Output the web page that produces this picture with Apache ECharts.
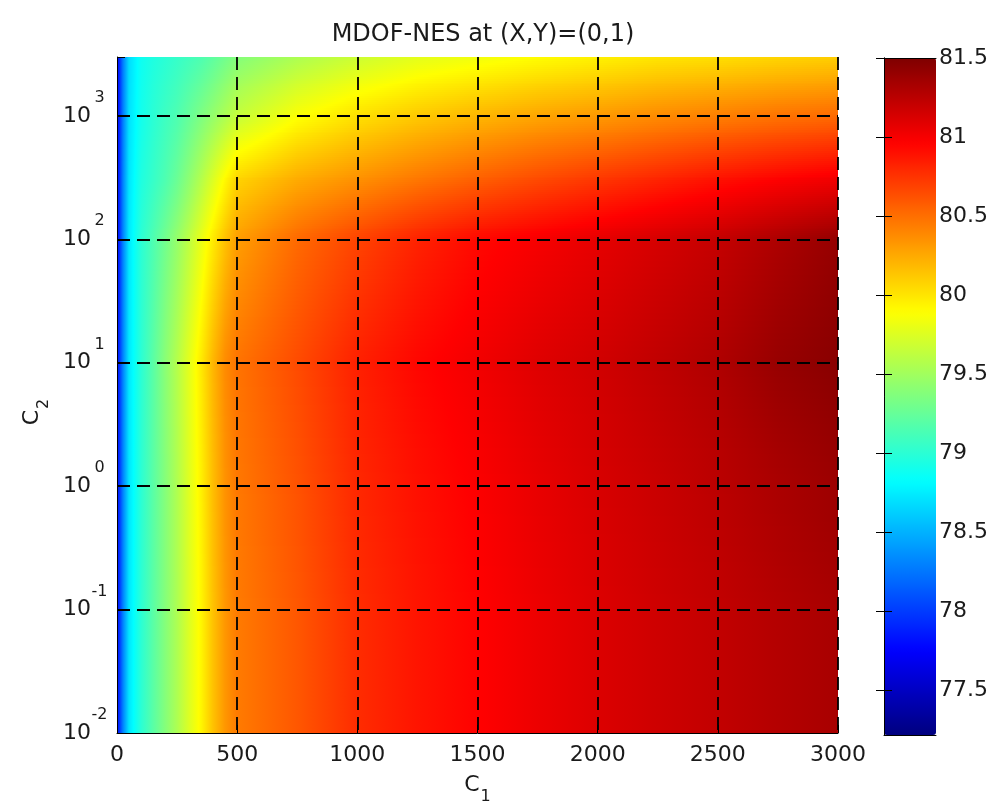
<!DOCTYPE html>
<html><head><meta charset="utf-8">
<script src="https://cdn.jsdelivr.net/npm/echarts@6/dist/echarts.min.js"></script>
<style>html,body{margin:0;padding:0;background:#fff}#c{width:992px;height:807px}</style>
</head><body><div id="c"></div>
<script>
// ---------------- data ----------------
const chartTitle = 'MDOF-NES at (X,Y)=(0,1)';
const c1Values = [0, 25, 50, 100, 150, 200, 250, 300, 350, 400, 450, 500, 750, 1000, 1250, 1500, 1750, 2000, 2250, 2500, 2750, 3000];
const c2Values = [0.01, 0.1, 1, 10, 100, 300, 1000, 3000];
const nesAtC2_0p01 = [77.75, 78.30, 78.72, 79.00, 79.20, 79.38, 79.55, 79.75, 79.93, 80.15, 80.33, 80.45, 80.60, 80.78, 80.88, 80.96, 81.04, 81.11, 81.17, 81.22, 81.28, 81.33];
const nesAtC2_0p1  = [77.75, 78.30, 78.72, 79.00, 79.20, 79.38, 79.55, 79.75, 79.93, 80.15, 80.33, 80.45, 80.60, 80.78, 80.88, 80.96, 81.04, 81.11, 81.17, 81.22, 81.28, 81.33];
const nesAtC2_1    = [77.75, 78.30, 78.72, 79.00, 79.20, 79.38, 79.56, 79.76, 79.95, 80.17, 80.35, 80.46, 80.62, 80.80, 80.90, 80.98, 81.06, 81.13, 81.19, 81.25, 81.32, 81.38];
const nesAtC2_10   = [77.75, 78.30, 78.73, 79.00, 79.20, 79.40, 79.58, 79.78, 79.98, 80.20, 80.38, 80.48, 80.65, 80.83, 80.94, 81.02, 81.10, 81.16, 81.23, 81.30, 81.40, 81.46];
const nesAtC2_100  = [77.72, 78.30, 78.73, 79.00, 79.15, 79.30, 79.45, 79.62, 79.80, 79.98, 80.15, 80.30, 80.52, 80.68, 80.82, 80.93, 81.00, 81.07, 81.14, 81.21, 81.31, 81.41];
const nesAtC2_300  = [77.72, 78.30, 78.72, 78.95, 79.05, 79.15, 79.27, 79.42, 79.58, 79.75, 79.92, 80.08, 80.25, 80.36, 80.47, 80.57, 80.66, 80.74, 80.82, 80.90, 80.97, 81.03];
const nesAtC2_1000 = [77.70, 78.28, 78.70, 78.90, 79.00, 79.08, 79.15, 79.25, 79.35, 79.45, 79.55, 79.65, 79.88, 80.02, 80.12, 80.20, 80.27, 80.32, 80.38, 80.43, 80.48, 80.52];
const nesAtC2_3000 = [77.70, 78.28, 78.68, 78.88, 78.95, 79.00, 79.05, 79.10, 79.15, 79.22, 79.30, 79.38, 79.55, 79.68, 79.78, 79.84, 79.90, 79.95, 80.00, 80.03, 80.07, 80.10];
const c1Ticks = [0, 500, 1000, 1500, 2000, 2500, 3000];
const c2TickExponents = [-2, -1, 0, 1, 2, 3];
const colorbarTicks = [77.5, 78, 78.5, 79, 79.5, 80, 80.5, 81, 81.5];
const colorbarMin = 77.22, colorbarMax = 81.5;
// -------------------------------------

const rows = [nesAtC2_0p01, nesAtC2_0p1, nesAtC2_1, nesAtC2_10, nesAtC2_100, nesAtC2_300, nesAtC2_1000, nesAtC2_3000];
const cells = [];
for (let j = 0; j < c2Values.length - 1; j++) {
  for (let i = 0; i < c1Values.length - 1; i++) {
    cells.push([c1Values[i], c2Values[j], c1Values[i + 1], c2Values[j + 1],
      rows[j][i], rows[j][i + 1], rows[j + 1][i], rows[j + 1][i + 1]]);
  }
}

function clamp01(a) { return Math.min(1, Math.max(0, a)); }
function jet(t) {
  t = clamp01(t);
  const f = a => Math.round(255 * clamp01(a));
  return 'rgb(' + f(Math.min(4 * t - 1.5, -4 * t + 4.5)) + ',' +
    f(Math.min(4 * t - 0.5, -4 * t + 3.5)) + ',' +
    f(Math.min(4 * t + 0.5, -4 * t + 2.5)) + ')';
}
const BREAKS = [0.125, 0.375, 0.625, 0.875];
function toT(v) { return (v - colorbarMin) / (colorbarMax - colorbarMin); }
function hGradient(va, vb) {
  const ta = toT(va), tb = toT(vb);
  const stops = [{ offset: 0, color: jet(ta) }, { offset: 1, color: jet(tb) }];
  if (Math.abs(tb - ta) > 1e-9) {
    BREAKS.forEach(bp => {
      if ((bp - ta) * (bp - tb) < 0) stops.push({ offset: (bp - ta) / (tb - ta), color: jet(bp) });
    });
  }
  stops.sort((a, b) => a.offset - b.offset);
  return { type: 'linear', x: 0, y: 0, x2: 1, y2: 0, colorStops: stops, global: false };
}

function renderItem(params, api) {
  const p0 = api.coord([api.value(0), api.value(1)]);
  const p1 = api.coord([api.value(2), api.value(3)]);
  const v00 = api.value(4), v10 = api.value(5), v01 = api.value(6), v11 = api.value(7);
  const xl = Math.round(p0[0]), xr = Math.round(p1[0]);
  const bottom = p0[1], top = p1[1];
  const h = bottom - top;
  const n = Math.max(1, Math.ceil(h / 2));
  const children = [];
  for (let k = 0; k < n; k++) {
    const yb = Math.round(bottom - k * h / n), yt = Math.round(bottom - (k + 1) * h / n);
    if (yb <= yt) continue;
    const s = (k + 0.5) / n;
    const vl = v00 + (v01 - v00) * s;
    const vr = v10 + (v11 - v10) * s;
    children.push({
      type: 'rect',
      shape: { x: xl, y: yt, width: xr - xl, height: yb - yt },
      style: { fill: hGradient(vl, vr) }
    });
  }
  return { type: 'group', children: children };
}

const FONT = 'DejaVu Sans';
const TXT = '#1a1a1a';
const dash = [13, 7];

const chart = echarts.init(document.getElementById('c'));
chart.setOption({
  animation: false,
  backgroundColor: '#ffffff',
  title: {
    text: chartTitle, left: 478, top: 18, textAlign: 'center',
    textStyle: { fontFamily: FONT, fontSize: 24, fontWeight: 'normal', color: TXT }
  },
  grid: [
    { left: 117, top: 57, width: 721, height: 676, outerBoundsMode: 'none', containLabel: false },
    { left: 884, top: 58, width: 52, height: 677, outerBoundsMode: 'none', containLabel: false }
  ],
  visualMap: {
    type: 'continuous', min: colorbarMin, max: colorbarMax, calculable: false,
    orient: 'vertical', left: 884, top: 58, itemWidth: 52, itemHeight: 677,
    padding: 0, text: null, seriesIndex: 0, dimension: 4, hoverLink: false,
    inRange: { color: ['#00007F', '#0000FF', '#007FFF', '#00FFFF', '#7FFF7F', '#FFFF00', '#FF7F00', '#FF0000', '#7F0000'] }
  },
  xAxis: [
    {
      gridIndex: 0, type: 'value', min: 0, max: 3000, interval: 500, position: 'bottom', z: 10,
      axisLine: { show: true, lineStyle: { color: '#000', width: 1 } },
      axisTick: { show: true, inside: true, length: 8, lineStyle: { color: '#000' } },
      axisLabel: { fontFamily: FONT, fontSize: 22, color: TXT, margin: 11,
        formatter: v => (c1Ticks.indexOf(v) >= 0 ? String(v) : '') },
      splitLine: { show: true, showMinLine: false, lineStyle: { color: '#000', width: 1.8, type: dash } },
      name: '{c|C}{s|1}', nameLocation: 'middle', nameGap: 32,
      nameTextStyle: { rich: {
        c: { fontFamily: FONT, fontSize: 22, color: TXT },
        s: { fontFamily: FONT, fontSize: 16, color: TXT, padding: [24, 0, 0, 1] }
      } }
    },
    { gridIndex: 1, type: 'value', min: 0, max: 1, position: 'bottom', z: 10,
      axisLine: { show: true, onZero: false, lineStyle: { color: '#000' } }, axisTick: { show: false }, axisLabel: { show: false }, splitLine: { show: false } },
    { gridIndex: 1, type: 'value', min: 0, max: 1, position: 'top', z: 10,
      axisLine: { show: true, onZero: false, lineStyle: { color: '#000' } }, axisTick: { show: false }, axisLabel: { show: false }, splitLine: { show: false } }
  ],
  yAxis: [
    {
      gridIndex: 0, type: 'log', logBase: 10, min: 0.01, max: 3000, z: 10,
      axisLine: { show: true, lineStyle: { color: '#000', width: 1 } },
      axisTick: { show: true, inside: true, length: 8, lineStyle: { color: '#000' } },
      axisLabel: {
        margin: 10, hideOverlap: false,
        formatter: function (v) {
          const l = Math.log10(v), e = Math.round(l);
          if (Math.abs(l - e) > 1e-6 || c2TickExponents.indexOf(e) < 0) return '';
          return '{b|10}{s|' + e + '}';
        },
        rich: {
          b: { fontFamily: FONT, fontSize: 22, color: TXT },
          s: { fontFamily: FONT, fontSize: 16, color: TXT, padding: [0, 0, 36, 1], width: 15, align: 'left' }
        }
      },
      splitLine: { show: true, showMinLine: false, showMaxLine: false, lineStyle: { color: '#000', width: 1.8, type: dash } },
      name: '{c|C}{s|2}', nameLocation: 'middle', nameGap: 64, nameRotate: 90,
      nameTextStyle: { rich: {
        c: { fontFamily: FONT, fontSize: 22, color: TXT },
        s: { fontFamily: FONT, fontSize: 16, color: TXT, padding: [24, 34, 0, 1] }
      } }
    },
    {
      gridIndex: 1, type: 'value', min: colorbarMin, max: colorbarMax, position: 'right', z: 10,
      axisLine: { show: true, lineStyle: { color: '#000' } },
      axisTick: { show: true, inside: true, length: 8, customValues: colorbarTicks, lineStyle: { color: '#000' } },
      axisLabel: { show: true, margin: 3, fontFamily: FONT, fontSize: 22, color: TXT, customValues: colorbarTicks,
        formatter: v => String(v) },
      splitLine: { show: false }
    },
    {
      gridIndex: 1, type: 'value', min: colorbarMin, max: colorbarMax, position: 'left', z: 10,
      axisLine: { show: true, lineStyle: { color: '#000' } },
      axisTick: { show: true, inside: true, length: 8, customValues: colorbarTicks, lineStyle: { color: '#000' } },
      axisLabel: { show: false },
      splitLine: { show: false }
    }
  ],
  series: [{
    type: 'custom', coordinateSystem: 'cartesian2d', xAxisIndex: 0, yAxisIndex: 0,
    data: cells, encode: { x: [0, 2], y: [1, 3] }, renderItem: renderItem, clip: true, silent: true, z: 1
  }]
});
</script></body></html>
